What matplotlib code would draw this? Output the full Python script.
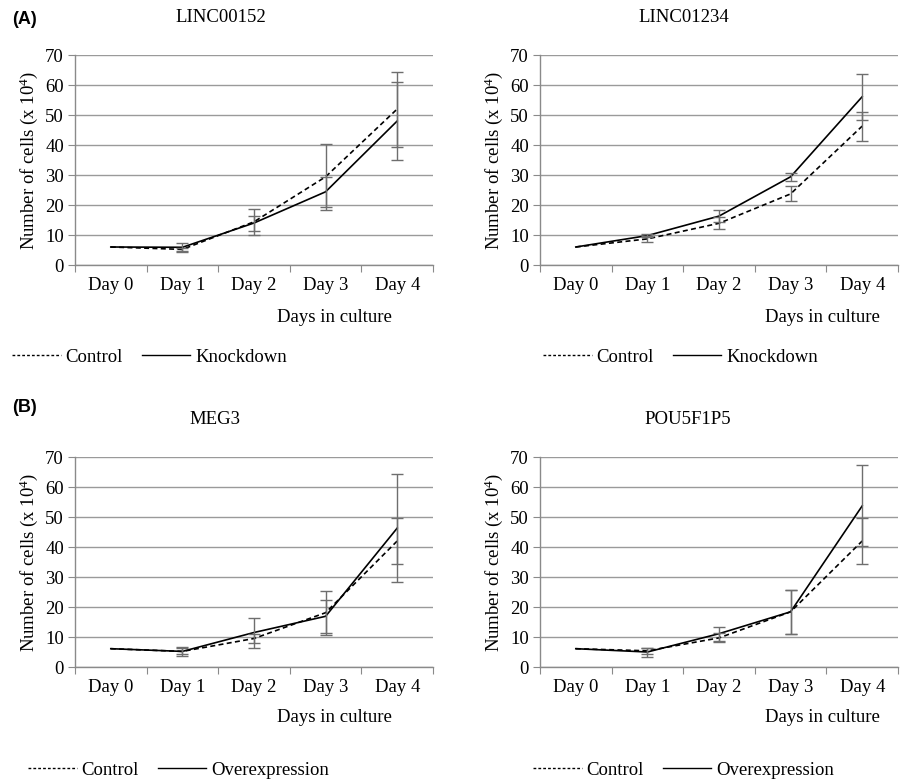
import matplotlib
matplotlib.use("Agg")
import matplotlib.pyplot as plt
from matplotlib.lines import Line2D

plt.rcParams["font.family"] = ["Liberation Serif", "DejaVu Serif"]
plt.rcParams["mathtext.fontset"] = "custom"
plt.rcParams["mathtext.rm"] = "Liberation Serif"
plt.rcParams["mathtext.it"] = "Liberation Serif:italic"

days = ["Day 0", "Day 1", "Day 2", "Day 3", "Day 4"]
y_ticks = [0, 10, 20, 30, 40, 50, 60, 70]

# panel A: knockdown
linc00152_ctrl = [6.0, 5.2, 14.4, 29.4, 52.0]
linc00152_ctrl_err = [0.0, 0.4, 4.3, 11.0, 12.5]
linc00152_kd = [6.0, 5.9, 14.0, 24.4, 48.0]
linc00152_kd_err = [0.0, 1.6, 2.5, 5.0, 13.0]

linc01234_ctrl = [6.0, 8.7, 13.9, 23.7, 46.3]
linc01234_ctrl_err = [0.0, 0.9, 2.0, 2.5, 4.8]
linc01234_kd = [6.0, 9.8, 16.3, 29.4, 56.1]
linc01234_kd_err = [0.0, 0.4, 2.0, 1.4, 7.6]

# panel B: overexpression
meg3_ctrl = [6.1, 5.2, 9.5, 18.1, 42.0]
meg3_ctrl_err = [0.0, 1.0, 1.5, 7.3, 7.8]
meg3_oe = [6.1, 5.2, 11.5, 16.9, 46.3]
meg3_oe_err = [0.0, 1.5, 5.0, 5.6, 18.0]

pou5f1p5_ctrl = [6.1, 5.4, 9.7, 18.4, 42.0]
pou5f1p5_ctrl_err = [0.0, 1.0, 1.5, 7.3, 7.7]
pou5f1p5_oe = [6.1, 5.0, 11.1, 18.4, 53.7]
pou5f1p5_oe_err = [0.0, 1.5, 2.3, 7.3, 13.5]

W, H = 903, 784
FS = 13.5
GRID = "#9a9a9a"
AXC = "#8a8a8a"
ERRC = "#6e6e6e"


def px_rect(x0, y0, x1, y1):
    return [x0 / W, 1 - y1 / H, (x1 - x0) / W, (y1 - y0) / H]


def draw_panel(fig, rect, title, title_xy, ctrl, ctrl_err, test, test_err, xlabel_xy):
    ax = fig.add_axes(rect)
    x = list(range(len(days)))

    ax.plot(x, ctrl, color="black", lw=1.2, ls=(0, (3, 2)), zorder=3)
    ax.plot(x, test, color="black", lw=1.2, ls="-", zorder=3)
    ax.errorbar(x, ctrl, yerr=ctrl_err, fmt="none", ecolor=ERRC, elinewidth=1.0,
                capsize=4, capthick=1.0, errorevery=(1, 1), zorder=4, clip_on=False)
    ax.errorbar(x, test, yerr=test_err, fmt="none", ecolor=ERRC, elinewidth=1.0,
                capsize=4, capthick=1.0, errorevery=(1, 1), zorder=4, clip_on=False)

    ax.set_xlim(-0.5, 4.5)
    ax.set_ylim(0, 70)
    ax.set_yticks(y_ticks)
    ax.set_yticklabels([str(t) for t in y_ticks], fontsize=FS)
    ax.set_xticks([i + 0.5 for i in range(-1, 5)], minor=False)
    ax.set_xticklabels([])
    ax.set_xticks(x, minor=True)
    ax.set_xticklabels(days, minor=True, fontsize=FS)
    ax.tick_params(axis="x", which="minor", length=0, pad=9)
    ax.tick_params(axis="x", which="major", length=5, color=AXC, direction="out")
    ax.tick_params(axis="y", length=5, color=AXC, direction="out", pad=3)

    ax.grid(axis="y", color=GRID, lw=1.0)
    ax.set_axisbelow(True)
    for s in ["top", "right"]:
        ax.spines[s].set_visible(False)
    for s in ["left", "bottom"]:
        ax.spines[s].set_color(AXC)
        ax.spines[s].set_linewidth(1.0)

    ax.set_ylabel(r"Number of cells (x 10$^{4}$)", fontsize=FS, labelpad=4)
    fig.text(title_xy[0] / W, 1 - title_xy[1] / H, title, fontsize=FS,
             ha="center", va="center")
    fig.text(xlabel_xy[0] / W, 1 - xlabel_xy[1] / H, "Days in culture", fontsize=FS,
             ha="right", va="center")
    return ax


def draw_legend(fig, x, y, test_label):
    handles = [
        Line2D([], [], color="black", lw=1.0, ls=(0, (2, 1.5))),
        Line2D([], [], color="black", lw=1.0, ls="-"),
    ]
    fig.legend(handles, ["Control", test_label], loc="center left",
               bbox_to_anchor=(x / W, 1 - y / H), ncol=2, frameon=False,
               fontsize=FS, handlelength=2.6, handletextpad=0.25,
               columnspacing=1.0, borderaxespad=0, borderpad=0)


fig = plt.figure(figsize=(W / 100, H / 100), dpi=100)

draw_panel(fig, px_rect(75, 55, 433, 265), "LINC00152", (221, 17),
           linc00152_ctrl, linc00152_ctrl_err, linc00152_kd, linc00152_kd_err, (392, 318))
draw_panel(fig, px_rect(540, 55, 898, 265), "LINC01234", (684, 17),
           linc01234_ctrl, linc01234_ctrl_err, linc01234_kd, linc01234_kd_err, (880, 318))
draw_panel(fig, px_rect(75, 457, 433, 667), "MEG3", (215, 420),
           meg3_ctrl, meg3_ctrl_err, meg3_oe, meg3_oe_err, (392, 718))
draw_panel(fig, px_rect(540, 457, 898, 667), "POU5F1P5", (688, 420),
           pou5f1p5_ctrl, pou5f1p5_ctrl_err, pou5f1p5_oe, pou5f1p5_oe_err, (880, 718))

draw_legend(fig, 12, 357, "Knockdown")
draw_legend(fig, 543, 357, "Knockdown")
draw_legend(fig, 28, 770, "Overexpression")
draw_legend(fig, 533, 770, "Overexpression")

fig.text(12 / W, 1 - 19 / H, "(A)", fontsize=13, fontweight="bold",
         family=["Liberation Sans", "DejaVu Sans"], ha="left", va="center")
fig.text(12 / W, 1 - 408 / H, "(B)", fontsize=13, fontweight="bold",
         family=["Liberation Sans", "DejaVu Sans"], ha="left", va="center")

fig.savefig("out.png", dpi=100)
